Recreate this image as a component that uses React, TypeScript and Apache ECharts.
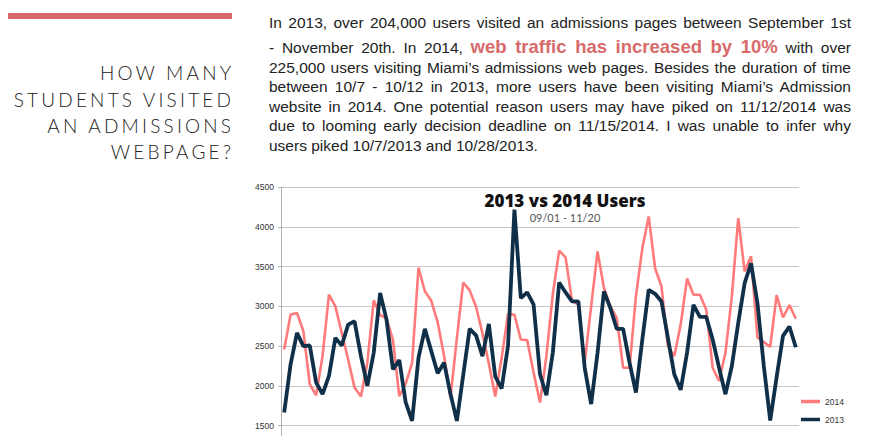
import React, { useEffect, useRef } from "react";
import * as echarts from "echarts";

// ---- data ----
const monthSpans: [string, number][] = [["09", 30], ["10", 31], ["11", 20]];
const dates: string[] = [];
for (const [m, n] of monthSpans) {
  for (let d = 1; d <= n; d++) dates.push(`${m}/${String(d).padStart(2, "0")}`);
}

const users2014 = [
  2458, 2896, 2917, 2687, 2021, 1883, 2375, 3146, 3000, 2667,
  2333, 1979, 1867, 2292, 3075, 2890, 2850, 2580, 1870, 2030,
  2290, 3485, 3190, 3070, 2800, 2380, 1850, 2600, 3300, 3200,
  2995, 2660, 2283, 1867, 2350, 2905, 2895, 2583, 2575, 2167,
  1792, 2375, 3150, 3700, 3615, 3070, 3021, 2300, 3000, 3690,
  3230, 3000, 2854, 2229, 2229, 3125, 3729, 4130, 3479, 3250,
  2500, 2375, 2771, 3350, 3146, 3146, 2958, 2229, 2062, 2417,
  3125, 4110, 3440, 3630, 2610, 2550, 2490, 3140, 2860, 3015,
  2845,
];

const users2013 = [
  1667, 2271, 2667, 2500, 2508, 2042, 1896, 2125, 2604, 2508,
  2771, 2812, 2375, 2000, 2417, 3167, 2833, 2208, 2325, 1792,
  1562, 2354, 2717, 2437, 2158, 2292, 1900, 1560, 2140, 2717,
  2635, 2375, 2780, 2120, 1967, 2505, 4217, 3104, 3175, 3021,
  2146, 1883, 2417, 3300, 3175, 3062, 3062, 2220, 1771, 2417,
  3187, 2979, 2717, 2717, 2292, 1917, 2583, 3208, 3158, 3062,
  2604, 2146, 1950, 2420, 3020, 2867, 2867, 2583, 2229, 1896,
  2250, 2792, 3292, 3540, 3042, 2250, 1565, 2110, 2629, 2746,
  2486,
];

const seriesNames = ["2014", "2013"];
const chartTitle = "2013 vs 2014 Users";
const chartSubtitle = "09/01 - 11/20";

const headingLines = ["HOW MANY", "STUDENTS VISITED", "AN ADMISSIONS", "WEBPAGE?"];

const para1 = "In 2013, over 204,000 users visited an admissions pages between September 1st";
const para2Before = "- November 20th. In 2014,";
const para2Highlight = "web traffic has increased by 10%";
const para2After = "with over";
const paraRest = [
  "225,000 users visiting Miami\u2019s admissions web pages. Besides the duration of time",
  "between 10/7 - 10/12 in 2013, more users have been visiting Miami\u2019s Admission",
  "website in 2014. One potential reason users may have piked on 11/12/2014 was",
  "due to looming early decision deadline on 11/15/2014. I was unable to infer why",
];
const paraLast = "users piked 10/7/2013 and 10/28/2013.";

const PINK = "#ff7b7b";
const NAVY = "#10304a";
const RED = "#d86a6a";
const AXIS_GREY = "#b3b3b3";

export default function App() {
  const ref = useRef<HTMLDivElement>(null);

  useEffect(() => {
    if (!ref.current) return;
    const chart = echarts.init(ref.current, undefined, { renderer: "svg" });
    chart.setOption({
      animation: false,
      grid: { left: 281, right: 81, top: 187, bottom: 10.3, outerBoundsMode: "none", containLabel: false },
      xAxis: {
        type: "category",
        data: dates,
        boundaryGap: true,
        axisLine: { show: false },
        axisTick: { show: false },
        axisLabel: { show: false },
        splitLine: { show: false },
      },
      yAxis: {
        type: "value",
        min: 1500,
        max: 4500,
        interval: 500,
        axisLine: { show: true, lineStyle: { color: AXIS_GREY, width: 1 } },
        axisTick: { show: true, length: 3, lineStyle: { color: AXIS_GREY } },
        axisLabel: {
          fontSize: 8.5,
          color: "#333",
          margin: 7,
          fontFamily: "'Liberation Sans', Arial, sans-serif",
          formatter: (v: number) => String(v),
        },
        splitLine: { lineStyle: { color: "#c6c6c6", width: 1.2 } },
      },
      legend: {
        orient: "vertical",
        left: 796,
        top: 392,
        icon: "rect",
        itemWidth: 19,
        itemHeight: 3.5,
        itemGap: 9,
        textStyle: { fontSize: 8.5, color: "#333", fontFamily: "'Liberation Sans', Arial, sans-serif" },
        data: [seriesNames[0], seriesNames[1]],
      },
      series: [
        {
          name: seriesNames[0],
          type: "line",
          data: users2014,
          symbol: "none",
          lineStyle: { color: PINK, width: 2.6 },
          itemStyle: { color: PINK },
        },
        {
          name: seriesNames[1],
          type: "line",
          data: users2013,
          symbol: "none",
          lineStyle: { color: NAVY, width: 3.8 },
          itemStyle: { color: NAVY },
        },
      ],
      graphic: [
        { type: "rect", shape: { x: 8, y: 13, width: 224, height: 6 }, style: { fill: RED } },
        {
          type: "line",
          shape: { x1: 281.5, y1: 425, x2: 281.5, y2: 440 },
          style: { stroke: AXIS_GREY, lineWidth: 1 },
        },
        {
          type: "text",
          x: 565,
          y: 200,
          style: {
            text: chartTitle,
            fontSize: 17,
            lineHeight: 16,
            fontWeight: 800,
            fontFamily: "'Open Sans', sans-serif",
            fill: "#111",
            align: "center",
            verticalAlign: "middle",
          },
        },
        {
          type: "text",
          x: 565,
          y: 217,
          style: {
            text: chartSubtitle,
            fontSize: 11,
            lineHeight: 12,
            fontFamily: "Lato, 'Open Sans', sans-serif",
            fill: "#555",
            align: "center",
            verticalAlign: "middle",
          },
        },
      ],
    });
    return () => chart.dispose();
  }, []);

  const headingCenters = [73, 99.5, 126, 152];
  const headLS = 3.2;
  const paraCenters = [23, 47, 67.5, 87, 106.5, 126, 145.5];
  const paraBase: React.CSSProperties = {
    position: "absolute",
    left: 269,
    width: 582,
    height: 20,
    lineHeight: "20px",
    fontSize: 15.5,
    fontFamily: "'Liberation Sans', Arial, sans-serif",
    color: "#222",
    whiteSpace: "nowrap",
    textAlign: "justify",
    textAlignLast: "justify",
  };

  return (
    <div style={{ position: "absolute", left: 0, top: 0, width: 880, height: 436, background: "#fff", overflow: "hidden" }}>
      <div ref={ref} style={{ position: "absolute", left: 0, top: 0, width: 880, height: 436 }} />
      {headingLines.map((t, i) => (
        <div
          key={t}
          style={{
            position: "absolute",
            right: 880 - 231 - headLS,
            top: headingCenters[i] - 12,
            height: 24,
            lineHeight: "24px",
            fontSize: 19,
            fontWeight: 300,
            letterSpacing: headLS,
            fontFamily: "Lato, 'Open Sans', sans-serif",
            color: "#222",
            whiteSpace: "nowrap",
            textAlign: "right",
          }}
        >
          {t}
        </div>
      ))}
      <div style={{ ...paraBase, top: paraCenters[0] - 10 }}>{para1}</div>
      <div style={{ ...paraBase, top: paraCenters[1] - 10 }}>
        {para2Before}{" "}
        <span style={{ color: RED, fontWeight: 700, fontSize: 18.5 }}>{para2Highlight}</span>{" "}
        {para2After}
      </div>
      {paraRest.map((t, i) => (
        <div key={t} style={{ ...paraBase, top: paraCenters[2 + i] - 10 }}>{t}</div>
      ))}
      <div style={{ ...paraBase, top: paraCenters[6] - 10, textAlign: "left", textAlignLast: "left" }}>{paraLast}</div>
    </div>
  );
}
